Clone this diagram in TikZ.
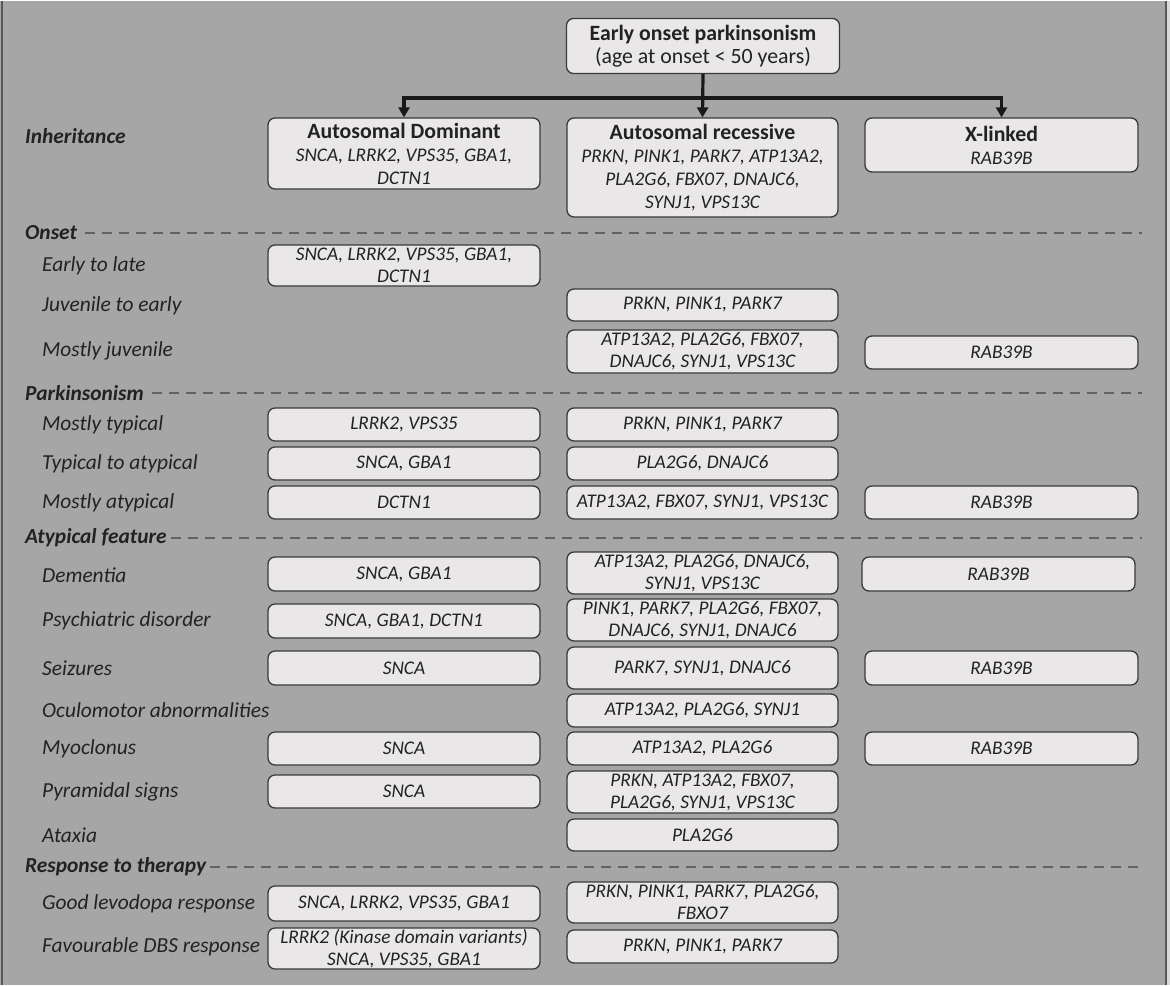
\documentclass[tikz,border=0pt]{standalone}
\usepackage{fontspec}
\setmainfont{Carlito}
\usetikzlibrary{arrows.meta}
\definecolor{bg}{HTML}{A6A6A6}
\definecolor{boxfill}{HTML}{E9E7E7}
\definecolor{boxline}{HTML}{3A3A3A}
\definecolor{txt}{HTML}{222222}
\definecolor{dashc}{HTML}{626262}
\newcommand{\hd}{\fontsize{21.8}{23}\selectfont\bfseries}
\newcommand{\gn}{\fontsize{19.3}{23}\selectfont\mdseries\itshape}
\tikzset{
  gbox/.style={draw=boxline, fill=boxfill, line width=1.3pt, rounded corners=7pt,
    align=center, inner sep=0pt, text=txt, font=\fontsize{19.3}{22}\selectfont\itshape},
  hbox/.style={gbox, font=\fontsize{19.3}{23}\selectfont},
  sect/.style={anchor=west, inner sep=0pt, text=txt, font=\fontsize{21.4}{24}\selectfont\bfseries\itshape},
  sub/.style={anchor=west, inner sep=0pt, text=txt, font=\fontsize{21.4}{24}\selectfont\itshape},
  dline/.style={draw=dashc, line width=1.8pt, dash pattern=on 10pt off 7pt},
  arr/.style={draw=black!90, line width=3.2pt, -{Triangle[length=10pt,width=11pt]}},
  colL/.style={gbox, minimum width=272pt},
  colM/.style={gbox, minimum width=271pt},
  colR/.style={gbox, minimum width=273pt}
}
\begin{document}
\begin{tikzpicture}[x=1pt,y=-1pt]
\fill[bg] (0,0) rectangle (1167,984);
\fill[black!15] (1167,0) rectangle (1170,984);
\draw[black!65, line width=2pt] (2,0) -- (2,984);
\draw[black!65, line width=2pt] (1166,0) -- (1166,984);
\useasboundingbox (0,0) rectangle (1170,984);

% top
\node[hbox, minimum width=273pt, minimum height=55pt] (top) at (703,45)
  {\hd Early onset parkinsonism\\\fontsize{21.8}{23}\selectfont (age at onset {<} 50 years)};

% inheritance
\node[sect] (inh) at (25,135) {Inheritance};
\node[hbox, minimum width=272pt, minimum height=71pt] (ad) at (404,152.5)
  {\hd Autosomal Dominant\\\gn SNCA, LRRK2, VPS35, GBA1,\\\gn DCTN1};
\node[hbox, minimum width=271pt, minimum height=99pt] (ar) at (702.5,166.5)
  {\hd Autosomal recessive\\\gn PRKN, PINK1, PARK7, ATP13A2,\\\gn PLA2G6, FBX07, DNAJC6,\\\gn SYNJ1, VPS13C};
\node[hbox, minimum width=273pt, minimum height=54pt] (xl) at (1001.5,144)
  {\hd X-linked\\\gn RAB39B};

\coordinate (j) at (703,97);
\draw[arr] (top.south) -- (ar.north);
\draw[arr] (j) -| (ad.north);
\draw[arr] (j) -| (xl.north);

% onset
\node[sect] (ons) at (25,232) {Onset};
\draw[dline] ([xshift=8pt]ons.east) -- (1142,232);
\node[sub] (l1) at (42,265) {Early to late};
\node[colL, minimum height=41pt] (b1) at (404,264.5) {SNCA, LRRK2, VPS35, GBA1,\\DCTN1};
\node[sub] (l2) at (42,305) {Juvenile to early};
\node[colM, minimum height=32pt] (b2) at (702.5,304) {PRKN, PINK1, PARK7};
\node[sub] (l3) at (42,350) {Mostly juvenile};
\node[colM, minimum height=43pt] (b3) at (702.5,350.5) {ATP13A2, PLA2G6, FBX07,\\DNAJC6, SYNJ1, VPS13C};
\node[colR, minimum height=33pt] (b3r) at (1001.5,351.5) {RAB39B};

% parkinsonism
\node[sect] (par) at (25,392) {Parkinsonism};
\draw[dline] ([xshift=8pt]par.east) -- (1142,392);
\node[sub] (l4) at (42,424) {Mostly typical};
\node[colL, minimum height=33pt] (b4) at (404,423.5) {LRRK2, VPS35};
\node[colM, minimum height=33pt] (b4m) at (702.5,423.5) {PRKN, PINK1, PARK7};
\node[sub] (l5) at (42,463) {Typical to atypical};
\node[colL, minimum height=33pt] (b5) at (404,462.5) {SNCA, GBA1};
\node[colM, minimum height=33pt] (b5m) at (702.5,462.5) {PLA2G6, DNAJC6};
\node[sub] (l6) at (42,502) {Mostly atypical};
\node[colL, minimum height=33pt] (b6) at (404,501.5) {DCTN1};
\node[colM, minimum height=33pt] (b6m) at (702.5,501.5) {ATP13A2, FBX07, SYNJ1, VPS13C};
\node[colR, minimum height=33pt] (b6r) at (1001.5,501.5) {RAB39B};

% atypical feature
\node[sect] (atf) at (25,537) {Atypical feature};
\draw[dline] ([xshift=4pt]atf.east) -- (1142,537);
\node[sub] (l7) at (42,574) {Dementia};
\node[colL, minimum height=34pt] (b7) at (404,573) {SNCA, GBA1};
\node[colM, minimum height=42pt] (b7m) at (702.5,572) {ATP13A2, PLA2G6, DNAJC6,\\SYNJ1, VPS13C};
\node[colR, minimum height=34pt] (b7r) at (998.5,573) {RAB39B};
\node[sub] (l8) at (42,620) {Psychiatric disorder};
\node[colL, minimum height=34pt] (b8) at (404,620) {SNCA, GBA1, DCTN1};
\node[colM, minimum height=42pt] (b8m) at (702.5,619) {PINK1, PARK7, PLA2G6, FBX07,\\DNAJC6, SYNJ1, DNAJC6};
\node[sub] (l9) at (42,667) {Seizures};
\node[colL, minimum height=34pt] (b9) at (404,667) {SNCA};
\node[colM, minimum height=42pt] (b9m) at (702.5,667) {PARK7, SYNJ1, DNAJC6};
\node[colR, minimum height=34pt] (b9r) at (1001.5,667) {RAB39B};
\node[sub] (l10) at (42,709) {Oculomotor abnormalities};
\node[colM, minimum height=33pt] (b10m) at (702.5,709.5) {ATP13A2, PLA2G6, SYNJ1};
\node[sub] (l11) at (42,748) {Myoclonus};
\node[colL, minimum height=33pt] (b11) at (404,747.5) {SNCA};
\node[colM, minimum height=33pt] (b11m) at (702.5,747.5) {ATP13A2, PLA2G6};
\node[colR, minimum height=33pt] (b11r) at (1001.5,747.5) {RAB39B};
\node[sub] (l12) at (42,791) {Pyramidal signs};
\node[colL, minimum height=33pt] (b12) at (404,790.5) {SNCA};
\node[colM, minimum height=42pt] (b12m) at (702.5,791) {PRKN, ATP13A2, FBX07,\\PLA2G6, SYNJ1, VPS13C};
\node[sub] (l13) at (42,834) {Ataxia};
\node[colM, minimum height=32pt] (b13m) at (702.5,834) {PLA2G6};

% response
\node[sect] (rsp) at (25,866) {Response to therapy};
\draw[dline] ([xshift=4pt]rsp.east) -- (1142,866);
\node[sub] (l14) at (42,903) {Good levodopa response};
\node[colL, minimum height=35pt] (b14) at (404,902.5) {SNCA, LRRK2, VPS35, GBA1};
\node[colM, minimum height=41pt] (b14m) at (702.5,901.5) {PRKN, PINK1, PARK7, PLA2G6,\\FBXO7};
\node[sub] (l15) at (42,946) {Favourable DBS response};
\node[colL, minimum height=41pt] (b15) at (404,947.5) {LRRK2 (Kinase domain variants)\\SNCA, VPS35, GBA1};
\node[colM, minimum height=33pt] (b15m) at (702.5,945.5) {PRKN, PINK1, PARK7};
\end{tikzpicture}
\end{document}
